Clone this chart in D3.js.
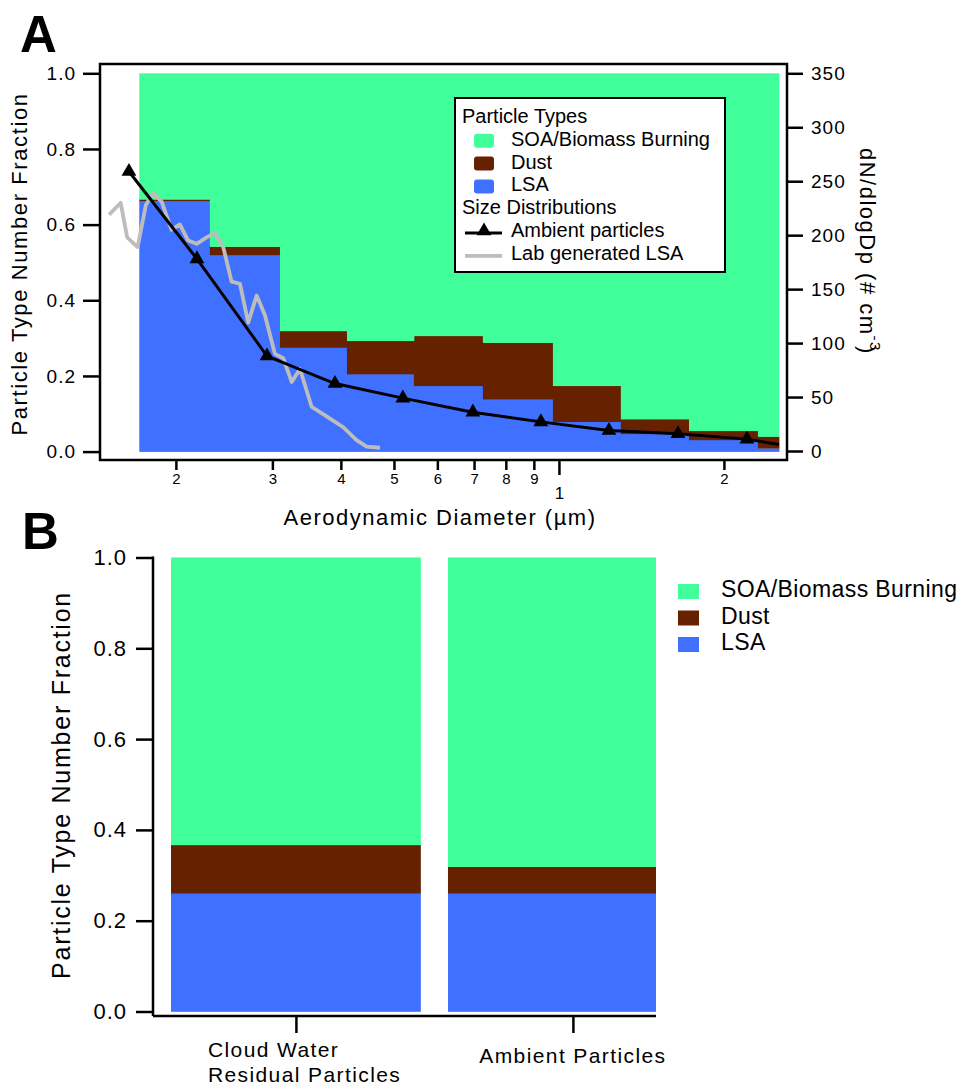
<!DOCTYPE html>
<html>
<head>
<meta charset="utf-8">
<script src="https://d3js.org/d3.v7.min.js"></script>
<style>
  body { margin: 0; background: #fff; }
  text { font-family: "Liberation Sans", Arial, sans-serif; fill: #000; }
</style>
</head>
<body>
<div id="chart"></div>
<script>
// ---- data ----
// panel A: size-resolved particle type fractions, bins on a log diameter axis (um)
var binEdges = [0.1715, 0.2307, 0.3097, 0.4104, 0.5436, 0.7265, 0.975, 1.297, 1.727, 2.307, 2.52];
var lsaFrac  = [0.663, 0.520, 0.275, 0.205, 0.174, 0.138, 0.079, 0.047, 0.031, 0.009];
var dustFrac = [0.004, 0.022, 0.044, 0.088, 0.132, 0.150, 0.095, 0.039, 0.024, 0.031];

// size distributions (right axis, dN/dlogDp)
var ambientD = [0.1642, 0.2185, 0.2933, 0.3902, 0.519, 0.6966, 0.927, 1.234, 1.649, 2.203, 2.52];
var ambientN = [259, 178, 88, 62.5, 49, 36, 27, 19, 16, 11, 6];

var labD = [0.1511, 0.1586, 0.1630, 0.1703, 0.1763, 0.1818, 0.1884, 0.1964, 0.2034, 0.2106,
            0.2182, 0.2276, 0.2356, 0.2440, 0.2527, 0.2618, 0.2710, 0.2808, 0.2907, 0.3032,
            0.3140, 0.3253, 0.3369, 0.3537, 0.3768, 0.4041, 0.4273, 0.4458, 0.4714];
var labN = [219, 230, 198, 189, 228, 239, 231, 205, 210, 195,
            192, 198, 202, 189, 157, 155, 119, 144, 126, 90,
            86, 64, 76, 41, 32, 22, 10, 4, 3];

var minorTicks = [0.2, 0.3, 0.4, 0.5, 0.6, 0.7, 0.8, 0.9, 2];
var fracTicks = [0, 0.2, 0.4, 0.6, 0.8, 1.0];
var dndTicks = [0, 50, 100, 150, 200, 250, 300, 350];

// panel B: whole-population fractions
var categories = [["Cloud Water", "Residual Particles"], ["Ambient Particles"]];
var lsaB  = [0.26, 0.26];
var dustB = [0.107, 0.059];

var typeKeys   = ["lsa", "dust", "soa"];
var typeLabels = ["SOA/Biomass Burning", "Dust", "LSA"];
var typeColors = {soa: "#40FF9A", dust: "#662200", lsa: "#4070FF"};
var legendKeys = ["soa", "dust", "lsa"];

var svg = d3.select("#chart").append("svg")
  .attr("width", 960)
  .attr("height", 1087);

svg.append("rect").attr("width", 960).attr("height", 1087).attr("fill", "#fff");

var stack = d3.stack().keys(typeKeys);

// ================= PANEL A =================
var xA = d3.scaleLog().domain([0.1454, 2.607]).range([100, 787]);
var yA = d3.scaleLinear().domain([0, 1]).range([451.6, 73.3]);
var yR = d3.scaleLinear().domain([0, 350]).range([451.0, 73.3]);

var binRows = lsaFrac.map(function(v, i) {
  return {lo: binEdges[i], hi: binEdges[i + 1], lsa: v, dust: dustFrac[i], soa: 1 - v - dustFrac[i]};
});

var layersA = svg.append("g").selectAll("g")
  .data(stack(binRows))
  .enter().append("g")
    .attr("fill", function(d) { return typeColors[d.key]; });

layersA.selectAll("rect")
  .data(function(d) { return d; })
  .enter().append("rect")
    .attr("x", function(d) { return xA(d.data.lo); })
    .attr("width", function(d) { return xA(d.data.hi) - xA(d.data.lo) + 0.5; })
    .attr("y", function(d) { return yA(d[1]); })
    .attr("height", function(d) { return yA(d[0]) - yA(d[1]) + 0.3; });

// lab generated LSA
var labPts = labD.map(function(d, i) { return [d, labN[i]]; });
svg.append("path")
  .datum(labPts)
  .attr("fill", "none")
  .attr("stroke", "#BDBDBD")
  .attr("stroke-width", 3.8)
  .attr("stroke-linejoin", "round")
  .attr("d", d3.line()
    .x(function(d) { return xA(d[0]); })
    .y(function(d) { return yR(d[1]); }));

// ambient particles
var ambPts = ambientD.map(function(d, i) { return [d, ambientN[i]]; });
svg.append("path")
  .datum(ambPts)
  .attr("fill", "none")
  .attr("stroke", "#000")
  .attr("stroke-width", 3)
  .attr("d", d3.line()
    .x(function(d) { return xA(d[0]); })
    .y(function(d) { return yR(d[1]); }));

var tri = d3.symbol().type(d3.symbolTriangle).size(95);
svg.append("g").selectAll("path")
  .data(ambPts.slice(0, ambPts.length - 1))
  .enter().append("path")
    .attr("d", tri)
    .attr("fill", "#000")
    .attr("transform", function(d) { return "translate(" + xA(d[0]) + "," + yR(d[1]) + ")"; });

// frame
svg.append("rect")
  .attr("x", 100).attr("y", 64)
  .attr("width", 687).attr("height", 396)
  .attr("fill", "none")
  .attr("stroke", "#000")
  .attr("stroke-width", 2.5);

function styleAxis(g, fs, ls) {
  g.select(".domain").remove();
  g.selectAll(".tick line").attr("stroke", "#000").attr("stroke-width", 2.5);
  g.selectAll(".tick text")
    .attr("fill", "#000")
    .style("font-family", "'Liberation Sans', Arial, sans-serif")
    .style("font-size", fs + "px")
    .style("letter-spacing", ls + "px");
}

svg.append("g")
  .attr("transform", "translate(100,0)")
  .call(d3.axisLeft(yA).tickValues(fracTicks).tickFormat(d3.format(".1f")).tickSize(17).tickPadding(7))
  .call(styleAxis, 19, 1);

svg.append("g")
  .attr("transform", "translate(787,0)")
  .call(d3.axisRight(yR).tickValues(dndTicks).tickSize(16).tickPadding(8))
  .call(styleAxis, 19, 1);

svg.append("g")
  .attr("transform", "translate(0,460)")
  .call(d3.axisBottom(xA).tickValues(minorTicks).tickSize(10).tickPadding(3)
    .tickFormat(function(d) { return d < 1 ? Math.round(d * 10) : d; }))
  .call(styleAxis, 15, 0);

svg.append("g")
  .attr("transform", "translate(0,460)")
  .call(d3.axisBottom(xA).tickValues([1]).tickSize(15).tickPadding(12).tickFormat(d3.format("d")))
  .call(styleAxis, 17, 0);

// axis titles
svg.append("text")
  .attr("transform", "translate(27,264) rotate(-90)")
  .attr("text-anchor", "middle")
  .style("font-size", "22px")
  .style("letter-spacing", "1.6px")
  .text("Particle Type Number Fraction");

svg.append("text")
  .attr("x", 440).attr("y", 525)
  .attr("text-anchor", "middle")
  .style("font-size", "22px")
  .style("letter-spacing", "1.5px")
  .text("Aerodynamic Diameter (\u00b5m)");

var rt = svg.append("text")
  .attr("transform", "translate(860,148) rotate(90)")
  .style("font-size", "22px")
  .style("letter-spacing", "1.5px");
rt.append("tspan").text("dN/dlogDp (# cm");
rt.append("tspan").attr("dy", -10).style("font-size", "15px").text("-3");
rt.append("tspan").attr("dy", 10).attr("dx", -6).text(")");

// panel letter
svg.append("text")
  .attr("x", 20).attr("y", 52)
  .style("font-size", "51px").style("font-weight", "bold")
  .text("A");

// legend A
var legA = svg.append("g");
legA.append("rect")
  .attr("x", 455).attr("y", 98).attr("width", 270).attr("height", 174)
  .attr("fill", "#fff").attr("stroke", "#000").attr("stroke-width", 2);

var rowY = d3.scaleLinear().domain([0, 1]).range([123, 145.8]);
legA.append("text").attr("x", 462).attr("y", rowY(0)).style("font-size", "20px").text("Particle Types");
legendKeys.forEach(function(k, i) {
  legA.append("rect")
    .attr("x", 474).attr("y", rowY(i + 1) - 12)
    .attr("width", 20).attr("height", 14).attr("rx", 3)
    .attr("fill", typeColors[k]);
  legA.append("text").attr("x", 511).attr("y", rowY(i + 1))
    .style("font-size", "20px").text(typeLabels[i]);
});
legA.append("text").attr("x", 462).attr("y", rowY(4)).style("font-size", "20px").text("Size Distributions");
legA.append("line")
  .attr("x1", 465).attr("x2", 502).attr("y1", rowY(5) - 4).attr("y2", rowY(5) - 4)
  .attr("stroke", "#000").attr("stroke-width", 3);
legA.append("path").attr("d", tri).attr("fill", "#000")
  .attr("transform", "translate(484," + (rowY(5) - 6) + ")");
legA.append("text").attr("x", 511).attr("y", rowY(5)).style("font-size", "20px").text("Ambient particles");
legA.append("line")
  .attr("x1", 465).attr("x2", 502).attr("y1", rowY(6) - 4).attr("y2", rowY(6) - 4)
  .attr("stroke", "#BDBDBD").attr("stroke-width", 3.8);
legA.append("text").attr("x", 511).attr("y", rowY(6)).style("font-size", "20px").text("Lab generated LSA");

// ================= PANEL B =================
var xB = d3.scaleLinear().domain([-0.516, 1.30]).range([153, 656]);
var yB = d3.scaleLinear().domain([0, 1]).range([1011.5, 557.5]);
var halfW = 0.451;

svg.append("defs").append("clipPath").attr("id", "clipB")
  .append("rect").attr("x", 153).attr("y", 500).attr("width", 656 - 153).attr("height", 520);

var rowsB = lsaB.map(function(v, i) {
  return {i: i, lsa: v, dust: dustB[i], soa: 1 - v - dustB[i]};
});

var layersB = svg.append("g").attr("clip-path", "url(#clipB)")
  .selectAll("g")
  .data(stack(rowsB))
  .enter().append("g")
    .attr("fill", function(d) { return typeColors[d.key]; });

layersB.selectAll("rect")
  .data(function(d) { return d; })
  .enter().append("rect")
    .attr("x", function(d) { return xB(d.data.i - halfW); })
    .attr("width", function(d) { return xB(halfW) - xB(-halfW); })
    .attr("y", function(d) { return yB(d[1]); })
    .attr("height", function(d) { return yB(d[0]) - yB(d[1]) + 0.3; });

svg.append("g")
  .attr("transform", "translate(153,0)")
  .call(d3.axisLeft(yB).tickValues(fracTicks).tickFormat(d3.format(".1f")).tickSize(17).tickPadding(9))
  .call(styleAxis, 22, 1);

// axis lines B
svg.append("line")
  .attr("x1", 153).attr("x2", 153).attr("y1", yB(1) - 1).attr("y2", yB(0) + 4.5)
  .attr("stroke", "#000").attr("stroke-width", 2.5);
svg.append("line")
  .attr("x1", 153).attr("x2", xB.range()[1]).attr("y1", yB(0) + 4.5).attr("y2", yB(0) + 4.5)
  .attr("stroke", "#000").attr("stroke-width", 2.5);

svg.append("g")
  .attr("transform", "translate(0," + (yB(0) + 4.5) + ")")
  .call(d3.axisBottom(xB).tickValues([0, 1]).tickSize(17).tickFormat(""))
  .call(styleAxis, 21, 1.4);

categories.forEach(function(lines, i) {
  var t = svg.append("text")
    .style("font-size", "21px")
    .style("letter-spacing", "1.4px");
  if (lines.length > 1) {
    t.attr("x", xB(i) - 88).attr("y", yB(0) + 45);
    lines.forEach(function(s, j) {
      t.append("tspan").attr("x", xB(i) - 88).attr("dy", j === 0 ? 0 : 25).text(s);
    });
  } else {
    t.attr("x", xB(i)).attr("y", yB(0) + 51).attr("text-anchor", "middle").text(lines[0]);
  }
});

svg.append("text")
  .attr("transform", "translate(70,785) rotate(-90)")
  .attr("text-anchor", "middle")
  .style("font-size", "25px")
  .style("letter-spacing", "1.75px")
  .text("Particle Type Number Fraction");

svg.append("text")
  .attr("x", 22).attr("y", 549)
  .style("font-size", "51px").style("font-weight", "bold")
  .text("B");

// legend B
var rowYB = d3.scaleLinear().domain([0, 1]).range([597, 623.5]);
legendKeys.forEach(function(k, i) {
  svg.append("rect")
    .attr("x", 678).attr("y", rowYB(i) - 13)
    .attr("width", 21).attr("height", 15)
    .attr("fill", typeColors[k]);
  svg.append("text")
    .attr("x", 721).attr("y", rowYB(i))
    .style("font-size", "23px")
    .style("letter-spacing", "0.4px")
    .text(typeLabels[i]);
});
</script>
</body>
</html>
